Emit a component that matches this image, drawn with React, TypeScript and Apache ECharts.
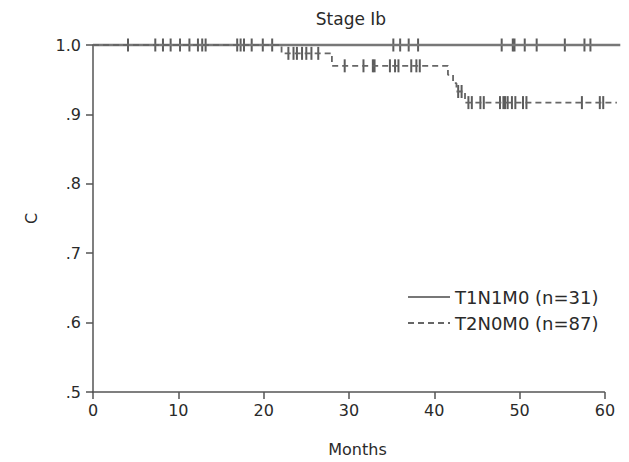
import React, { useEffect, useRef } from "react";
import * as echarts from "echarts";

const title = "Stage Ib";
const xName = "Months";
const yName = "C";
const xTicks = [0, 10, 20, 30, 40, 50, 60];
const yTickLabels: Record<string, string> = { "0.5": ".5", "0.6": ".6", "0.7": ".7", "0.8": ".8", "0.9": ".9", "1": "1.0" };

const seriesNames = ["T1N1M0 (n=31)", "T2N0M0 (n=87)"];

// Kaplan-Meier steps: [month, survival]
const curveT1N1M0 = [
  [0, 1.0],
  [61.8, 1.0],
];
const curveT2N0M0 = [
  [0, 1.0],
  [22.1, 0.988],
  [28.0, 0.97],
  [41.6, 0.957],
  [42.2, 0.945],
  [42.6, 0.933],
  [43.6, 0.917],
  [61.4, 0.917],
];

// censored observations: [month, survival]
const censorT1N1M0 = [
  [4.1, 1], [7.3, 1], [8.2, 1], [9.1, 1], [10.2, 1], [11.3, 1], [12.3, 1], [12.8, 1], [13.2, 1],
  [16.9, 1], [17.3, 1], [17.7, 1], [18.6, 1], [19.9, 1], [21.0, 1],
  [35.2, 1], [36.0, 1], [37.0, 1], [38.1, 1],
  [47.9, 1], [49.2, 1], [49.4, 1], [50.6, 1], [52.0, 1], [55.3, 1], [57.6, 1], [58.3, 1],
];
const censorT2N0M0 = [
  [22.9, 0.988], [23.5, 0.988], [23.9, 0.988], [24.5, 0.988], [25.0, 0.988], [25.6, 0.988], [26.4, 0.988],
  [29.5, 0.97], [31.7, 0.97], [32.8, 0.97], [33.0, 0.97], [34.8, 0.97], [35.4, 0.97], [35.8, 0.97],
  [37.3, 0.97], [37.9, 0.97], [38.3, 0.97],
  [42.8, 0.933], [43.2, 0.933],
  [44.0, 0.917], [44.4, 0.917], [45.4, 0.917], [45.8, 0.917], [47.7, 0.917], [48.1, 0.917], [48.3, 0.917],
  [48.6, 0.917], [49.1, 0.917], [49.5, 0.917], [50.4, 0.917], [50.8, 0.917], [57.3, 0.917], [59.4, 0.917], [59.8, 0.917],
];

const xAxisLine = [
  [-1, 0.5],
  [60, 0.5],
];

const FONT = "DejaVu Sans";
const TEXT = "#2a2a2a";
const LINE = "#555";

export default function App() {
  const ref = useRef<HTMLDivElement>(null);
  useEffect(() => {
    document.body.style.margin = "0";
    const chart = echarts.init(ref.current!, null, { renderer: "svg" });
    chart.setOption({
      animation: false,
      backgroundColor: "#fff",
      title: {
        text: title,
        left: 346,
        top: 5,
        textAlign: "center",
        textStyle: { fontFamily: FONT, fontSize: 17, fontWeight: "normal", color: TEXT },
      },
      legend: {
        data: seriesNames,
        orient: "vertical",
        left: 402,
        top: 283,
        itemWidth: 42,
        itemHeight: 14,
        itemGap: 8,
        itemStyle: { opacity: 0 },
        textStyle: { fontFamily: FONT, fontSize: 18, color: TEXT },
      },
      grid: { left: 93, top: 45, width: 529, height: 351 },
      xAxis: {
        type: "value",
        min: 0,
        max: 62,
        interval: 10,
        name: xName,
        nameLocation: "middle",
        nameGap: 49,
        nameTextStyle: { fontFamily: FONT, fontSize: 16, color: TEXT },
        axisLine: { show: false },
        axisTick: { show: true, length: 7, lineStyle: { color: LINE, width: 1.5 } },
        axisLabel: {
          margin: 10,
          fontFamily: FONT,
          fontSize: 16,
          color: TEXT,
          showMaxLabel: false,
          formatter: (v: number) => (xTicks.includes(v) ? String(v) : ""),
        },
        splitLine: { show: false },
      },
      yAxis: {
        type: "value",
        min: 0.5,
        max: 1.0,
        interval: 0.1,
        name: yName,
        nameLocation: "middle",
        nameGap: 54,
        nameTextStyle: { fontFamily: FONT, fontSize: 16, color: TEXT },
        axisLine: { show: true, lineStyle: { color: LINE, width: 1.5 } },
        axisTick: { show: true, length: 7, lineStyle: { color: LINE, width: 1.5 } },
        axisLabel: {
          margin: 12,
          fontFamily: FONT,
          fontSize: 16,
          color: TEXT,
          formatter: (v: number) => yTickLabels[String(Math.round(v * 10) / 10)] ?? "",
        },
        splitLine: { show: false },
      },
      series: [
        {
          name: "axis",
          type: "line",
          data: xAxisLine,
          symbol: "none",
          clip: false,
          silent: true,
          lineStyle: { color: LINE, width: 1.5 },
        },
        {
          name: seriesNames[0],
          type: "line",
          step: "end",
          data: curveT1N1M0,
          symbol: "none",
          clip: false,
          color: LINE,
          lineStyle: { color: "#777", width: 2.5, type: "solid" },
        },
        {
          name: seriesNames[1],
          type: "line",
          step: "end",
          data: curveT2N0M0,
          symbol: "none",
          clip: false,
          color: LINE,
          lineStyle: { color: "#666", width: 1.8, type: [6, 4] },
        },
        {
          name: "censor1",
          type: "scatter",
          data: censorT1N1M0,
          symbol: "rect",
          symbolSize: [2, 13],
          clip: false,
          itemStyle: { color: "#333" },
        },
        {
          name: "censor2",
          type: "scatter",
          data: censorT2N0M0,
          symbol: "rect",
          symbolSize: [2, 13],
          clip: false,
          itemStyle: { color: "#333" },
        },
      ],
    });
    return () => chart.dispose();
  }, []);
  return <div ref={ref} style={{ width: 629, height: 462 }} />;
}
